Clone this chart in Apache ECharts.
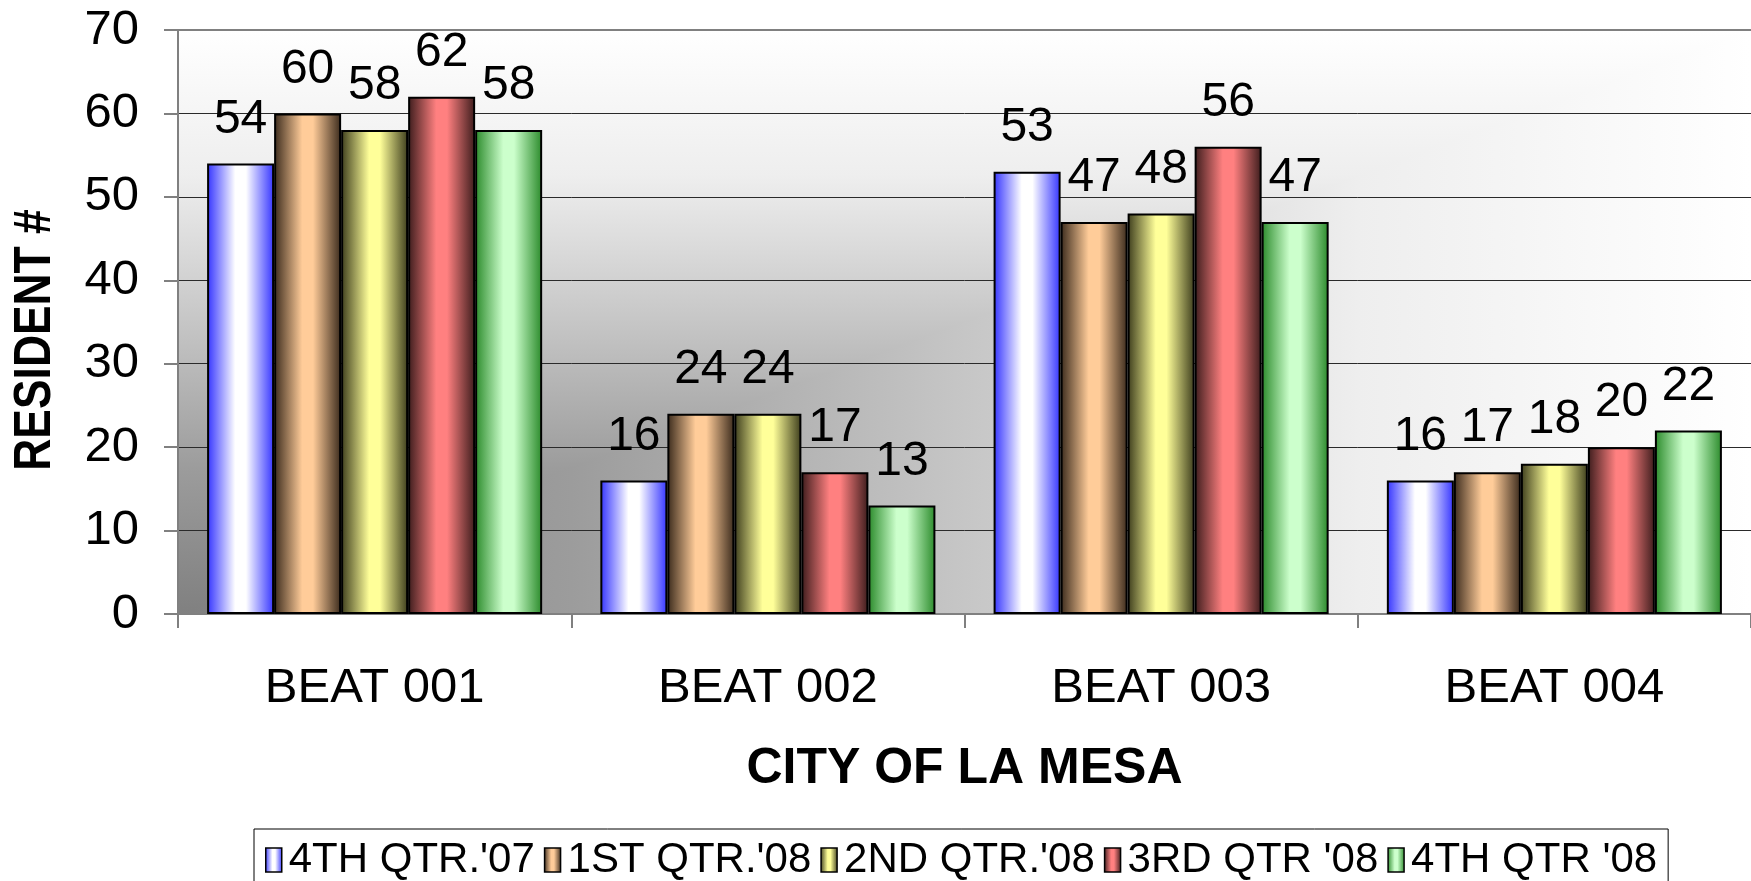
<!DOCTYPE html>
<html>
<head>
<meta charset="utf-8">
<script src="https://cdn.jsdelivr.net/npm/echarts@6/dist/echarts.min.js"></script>
<style>
html,body{margin:0;padding:0;background:#fff;}
#chart{width:1751px;height:881px;}
</style>
</head>
<body>
<div id="chart"></div>
<script>
// ---- data ----
const categories = ['BEAT 001', 'BEAT 002', 'BEAT 003', 'BEAT 004'];
const seriesNames = ["4TH QTR.'07", "1ST QTR.'08", "2ND QTR.'08", "3RD QTR '08", "4TH QTR '08"];
const q4_07 = [54, 16, 53, 16];
const q1_08 = [60, 24, 47, 17];
const q2_08 = [58, 24, 48, 18];
const q3_08 = [62, 17, 56, 20];
const q4_08 = [58, 13, 47, 22];
const yTicks = [0, 10, 20, 30, 40, 50, 60, 70];
const xTitle = 'CITY OF LA MESA';
const yTitle = 'RESIDENT #';

// ---- styles ----
const edgeColors = ['#3333ff', '#3a2a1c', '#3c3c1c', '#3c1c1c', '#2a8a2a'];
const centerColors = ['#ffffff', '#ffcc99', '#ffff99', '#ff8080', '#ccffcc'];
const FONT = "Arial, 'Liberation Sans', sans-serif";
const G = {left: 178, top: 30, right: 0, bottom: 267};
const W = 1751 - G.left - G.right, H = 881 - G.top - G.bottom;

function barGrad(i) {
  return {
    type: 'linear', x: 0, y: 0, x2: 1, y2: 0,
    colorStops: [
      {offset: 0, color: edgeColors[i]},
      {offset: 0.42, color: centerColors[i]},
      {offset: 0.58, color: centerColors[i]},
      {offset: 1, color: edgeColors[i]}
    ]
  };
}
const bgStops = [
  {offset: 0, color: '#808080'},
  {offset: 0.25, color: '#9c9c9c'},
  {offset: 0.5, color: '#c6c6c6'},
  {offset: 0.75, color: '#eeeeee'},
  {offset: 1, color: '#ffffff'}
];
const bgStopsRev = bgStops.map(s => ({offset: 1 - s.offset, color: s.color})).reverse();

const values = [q4_07, q1_08, q2_08, q3_08, q4_08];
const series = values.map((v, i) => ({
  name: seriesNames[i],
  type: 'bar',
  data: v,
  barGap: '0%',
  barCategoryGap: '14.8%',
  itemStyle: {color: barGrad(i), borderColor: '#000', borderWidth: 2},
  label: {
    show: true, position: 'top', distance: 20,
    fontFamily: FONT, fontSize: 48, color: '#000'
  }
}));

const chart = echarts.init(document.getElementById('chart'), null, {renderer: 'canvas'});
chart.setOption({
  backgroundColor: '#ffffff',
  animation: false,
  grid: {left: G.left, top: G.top, right: G.right, bottom: G.bottom, containLabel: false},
  graphic: [
    {
      type: 'rect', z: -10, silent: true,
      shape: {x: G.left, y: G.top, width: W, height: H},
      style: {fill: {type: 'linear', x: 0, y: 0, x2: 0, y2: 1, colorStops: bgStopsRev}}
    },
    {
      type: 'polygon', z: -9, silent: true,
      shape: {points: [[G.left, G.top + H], [G.left + W, G.top], [G.left + W, G.top + H]]},
      style: {fill: {type: 'linear', x: 0, y: 0, x2: 1, y2: 0, colorStops: bgStops}}
    },
    {
      type: 'text', silent: true,
      x: 36, y: 340, rotation: Math.PI / 2, scaleX: 0.87,
      style: {
        text: yTitle, fill: '#000',
        font: "bold 51px Arial, 'Liberation Sans', sans-serif",
        textAlign: 'center', textVerticalAlign: 'middle'
      }
    }
  ],
  legend: {
    data: seriesNames,
    left: 254, top: 829,
    orient: 'horizontal',
    padding: [10, 11, 8, 11],
    itemGap: 9,
    itemWidth: 16, itemHeight: 24,
    icon: 'rect',
    borderColor: '#000', borderWidth: 1,
    itemStyle: {borderColor: '#000', borderWidth: 1.5},
    textStyle: {fontFamily: FONT, fontSize: 42, color: '#000', padding: [0, 0, 0, 2]}
  },
  xAxis: [
    {
      type: 'category', data: categories,
      name: xTitle, nameLocation: 'middle', nameGap: 130,
      nameTextStyle: {fontFamily: FONT, fontSize: 50, fontWeight: 'bold', color: '#000'},
      axisLine: {lineStyle: {color: '#808080', width: 2}},
      axisTick: {show: true, length: 14, lineStyle: {color: '#808080', width: 2}},
      axisLabel: {fontFamily: FONT, fontSize: 49, color: '#000', margin: 50},
      splitLine: {show: false}
    },
    {
      type: 'category', data: categories, position: 'top',
      axisLine: {lineStyle: {color: '#808080', width: 2}},
      axisTick: {show: false}, axisLabel: {show: false}, splitLine: {show: false}
    }
  ],
  yAxis: {
    type: 'value', min: yTicks[0], max: yTicks[yTicks.length - 1], interval: 10,
    axisLine: {show: true, lineStyle: {color: '#808080', width: 2}},
    axisTick: {show: true, length: 14, lineStyle: {color: '#808080', width: 2}},
    axisLabel: {fontFamily: FONT, fontSize: 49, color: '#000', margin: 39},
    splitLine: {show: true, lineStyle: {color: '#2a2a2a', width: 1}}
  },
  series: series
});
</script>
</body>
</html>
